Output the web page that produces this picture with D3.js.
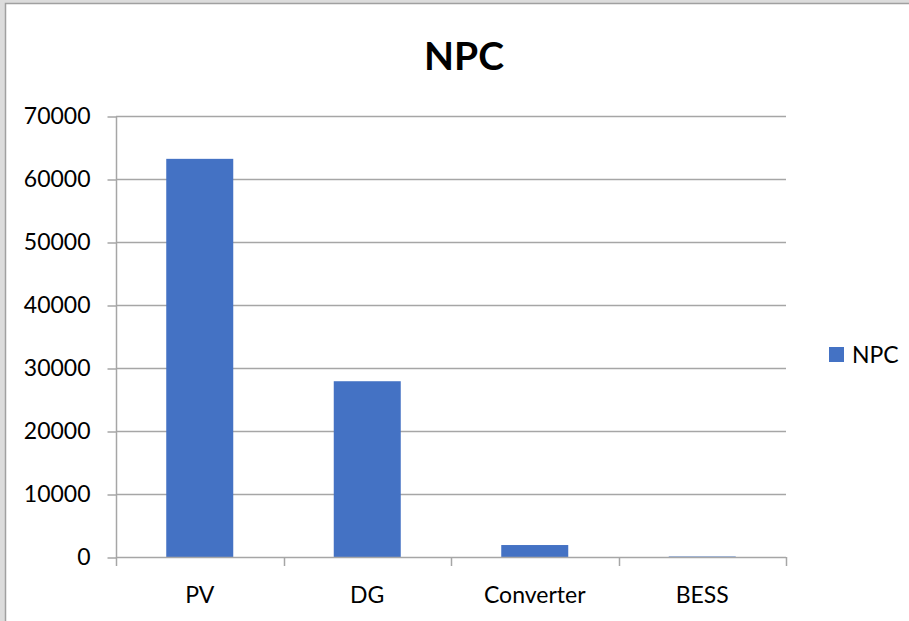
<!DOCTYPE html>
<html><head><meta charset="utf-8">
<script src="https://cdn.jsdelivr.net/npm/d3@7"></script>
<style>body{margin:0;background:#dcdcdc;}svg{display:block;}</style>
</head><body>
<svg id="c" width="909" height="621"></svg>
<script>
const categories = ["PV", "DG", "Converter", "BESS"];
const npcValues = [63200, 27900, 1900, 80];
const yTicks = [0, 10000, 20000, 30000, 40000, 50000, 60000, 70000];
const seriesName = "NPC";
const titleText = "NPC";

(function(){
const svg = d3.select("#c");
const font = "Lato, 'Open Sans', sans-serif";
svg.append("rect").attr("x",0).attr("y",0).attr("width",909).attr("height",621).attr("fill","#dcdcdc");
svg.append("rect").attr("x",5.5).attr("y",3.5).attr("width",920).attr("height",640)
  .attr("fill","#fff").attr("stroke","#a0a0a0").attr("stroke-width",1.5);

const pL = 116, pR = 786, pT = 116, pB = 557;
const x = d3.scaleBand().domain(categories).range([pL, pR]).paddingInner(0.6).paddingOuter(0.3);
const y = d3.scaleLinear().domain([0, 70000]).range([pB, pT]);

// gridlines
svg.append("g").selectAll("line").data(yTicks.filter(d=>d>0)).join("line")
  .attr("x1", pL).attr("x2", pR)
  .attr("y1", d=>Math.round(y(d))+0.5).attr("y2", d=>Math.round(y(d))+0.5)
  .attr("stroke","#a6a6a6").attr("stroke-width",1.5);

// bars
svg.append("g").selectAll("rect").data(categories).join("rect")
  .attr("x", d=>x(d)).attr("width", x.bandwidth())
  .attr("y", (d,i)=>y(npcValues[i])).attr("height", (d,i)=>y(0)-y(npcValues[i]))
  .attr("fill","#4472c4");

// y axis
const yAxis = d3.axisLeft(y).tickValues(yTicks).tickSize(9).tickPadding(17).tickFormat(d3.format("d"));
const gy = svg.append("g").attr("transform",`translate(${pL+0.5},0.5)`).call(yAxis);
gy.selectAll("line,path").attr("stroke","#a6a6a6").attr("stroke-width",1.5);
gy.select(".domain").attr("d",`M0,${pT}V${pB}`);
gy.selectAll("text").attr("font-family",font).attr("font-size",23).attr("fill","#000");

// x axis
const step = x.step();
const boundaries = d3.range(categories.length+1).map(i=>pL + i*step);
const gx = svg.append("g");
gx.append("line").attr("x1",pL).attr("x2",pR).attr("y1",pB+0.5).attr("y2",pB+0.5)
  .attr("stroke","#a6a6a6").attr("stroke-width",1.5);
gx.selectAll("line.t").data(boundaries).join("line").attr("class","t")
  .attr("x1",d=>Math.round(d)+0.5).attr("x2",d=>Math.round(d)+0.5)
  .attr("y1",pB).attr("y2",pB+9).attr("stroke","#a6a6a6").attr("stroke-width",1.5);
gx.selectAll("text").data(categories).join("text")
  .attr("x",d=>x(d)+x.bandwidth()/2).attr("y",603)
  .attr("text-anchor","middle").attr("font-family",font).attr("font-size",23).attr("fill","#000")
  .text(d=>d);

// title
svg.append("text").attr("x",464).attr("y",70).attr("text-anchor","middle")
  .attr("font-family",font).attr("font-weight","bold").attr("font-size",39).attr("fill","#000").text(titleText);

// legend
svg.append("rect").attr("x",829).attr("y",347).attr("width",15).attr("height",15).attr("fill","#4472c4");
svg.append("text").attr("x",852).attr("y",363).attr("font-family",font).attr("font-size",23).attr("fill","#000").text(seriesName);
})();
</script>
</body></html>
